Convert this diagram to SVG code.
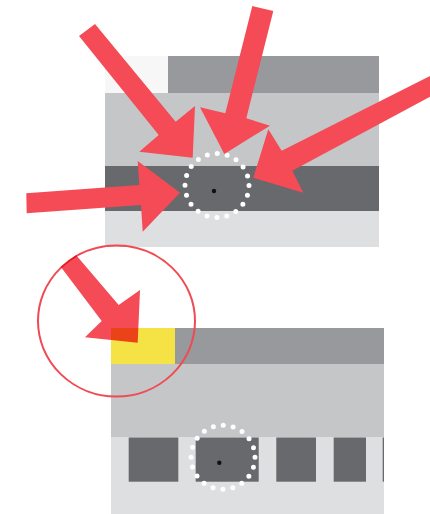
<svg xmlns="http://www.w3.org/2000/svg" width="430" height="514" viewBox="0 0 430 514">
<style>
.arrow{fill:#f44b56}
.dots{fill:none;stroke:#ffffff;stroke-width:5;stroke-linecap:round}
.dark{fill:#68696c}
.light{fill:#dedfe1}
.mid{fill:#c5c6c8}
.bar{fill:#98999c}
</style>
<rect width="430" height="514" fill="#ffffff"/>
<g id="panel-top">
<rect x="105" y="56" width="63" height="37" fill="#f7f7f7"/>
<rect class="bar" x="168" y="56" width="211" height="37"/>
<rect class="mid" x="105" y="93" width="274" height="73"/>
<rect class="dark" x="105" y="166" width="274" height="45"/>
<rect class="light" x="105" y="211" width="274" height="36"/>
<circle class="dots" cx="217" cy="185.5" r="32" stroke-dasharray="0 10.053"/>
<circle cx="214" cy="191" r="2.2" fill="#111"/>
</g>
<g id="panel-bottom">
<rect x="111" y="328" width="64" height="36" fill="#f5e346"/>
<rect class="bar" x="175" y="328" width="209" height="36"/>
<rect class="mid" x="111" y="364" width="273" height="73"/>
<rect class="light" x="111" y="437" width="273" height="77"/>
<rect class="dark" x="128.7" y="437.5" width="49.6" height="44.2"/>
<rect class="dark" x="195.7" y="437.5" width="63" height="44.2"/>
<rect class="dark" x="276.3" y="437.5" width="39.7" height="44.2"/>
<rect class="dark" x="333.7" y="437.5" width="32.3" height="44.2"/>
<rect class="dark" x="382.7" y="437.5" width="1.3" height="44.2"/>
<circle class="dots" cx="223" cy="457.3" r="32" stroke-dasharray="0 10.053"/>
<circle cx="219.3" cy="462.7" r="2.2" fill="#111"/>
</g>
<g id="connectors">
<polygon class="arrow" points="79,36 95,24 175.7,121.7 195,106 192.7,157.7 139.3,151.7 158.7,135"/>
<polygon class="arrow" points="252.3,6 273.3,11 246.3,118.3 270,125.7 224.3,154 200,107.3 225.3,113.3"/>
<polygon class="arrow" points="440,71 440,91.5 292.3,170.7 303.3,192.7 253.3,177.7 268.3,129.3 281.7,150.7"/>
<polygon class="arrow" points="26.3,193.3 139.3,185 137.7,161 180,192.7 142.7,231.7 141,205 26.7,213.3"/>
<ellipse id="highlight" cx="116.5" cy="321" rx="78.5" ry="75.5" fill="none" stroke="#f04a53" stroke-width="2"/>
<polygon class="arrow" style="mix-blend-mode:multiply" points="60.7,266.7 76,255 118.7,305 140,290 137.7,342.7 85,337.3 101.7,321"/>
</g>
</svg>
